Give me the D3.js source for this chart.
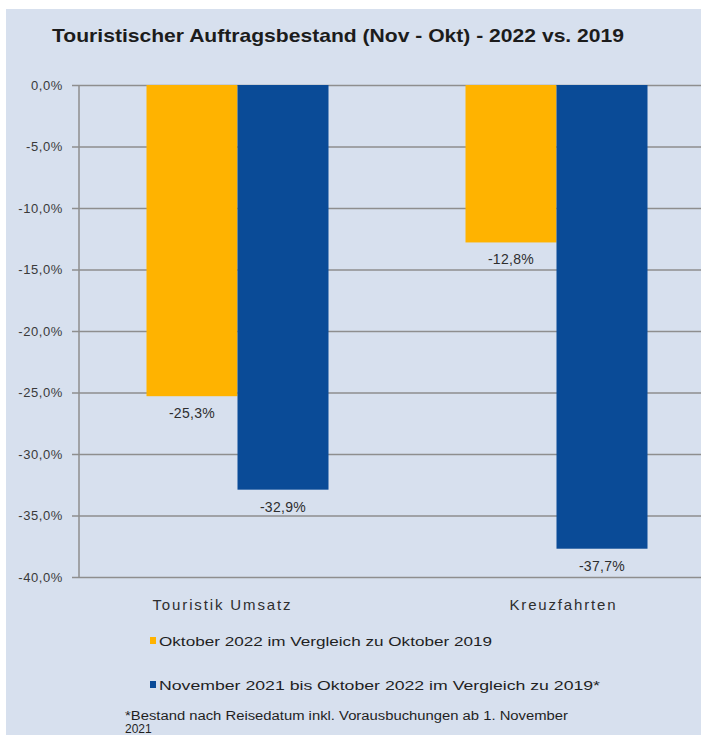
<!DOCTYPE html>
<html>
<head>
<meta charset="utf-8">
<script src="https://cdn.jsdelivr.net/npm/d3@7"></script>
<style>
    html, body { margin: 0; padding: 0; background: #fff; }
    svg { display: block; font-family: Arial, "Liberation Sans", sans-serif; }
</style>
</head>
<body>
<svg width="701" height="735"></svg>
<script>
const title = 'Touristischer Auftragsbestand (Nov - Okt) - 2022 vs. 2019';
const categories = ['Touristik Umsatz', 'Kreuzfahrten'];
const seriesNames = [
    'Oktober 2022 im Vergleich zu Oktober 2019',
    'November 2021 bis Oktober 2022 im Vergleich zu 2019*'
];
const oktoberValues = [-25.3, -12.8];
const novemberValues = [-32.9, -37.7];
const yTicks = [0, -5, -10, -15, -20, -25, -30, -35, -40];
const footnoteLines = ['*Bestand nach Reisedatum inkl. Vorausbuchungen ab 1. November', '2021'];

const colors = ['#ffb300', '#0a4b97'];
// hyphen minus and decimal comma, like the original
const fmt = v => v.toFixed(1).replace('.', ',') + '%';

const svg = d3.select('svg');
const WIDTH = 701;

svg.append('rect')
    .attr('x', 6).attr('y', 9)
    .attr('width', WIDTH - 6).attr('height', 735 - 9)
    .attr('fill', '#d7e0ee');

svg.append('text')
    .attr('x', 52).attr('y', 42)
    .attr('textLength', 572).attr('lengthAdjust', 'spacingAndGlyphs')
    .style('font-size', '19px').style('font-weight', 'bold')
    .style('fill', '#1c1c1c')
    .text(title);

const y = d3.scaleLinear().domain([-40, 0]).range([577, 85]);
const x0 = d3.scaleBand().domain(categories).range([78, 716])
    .paddingInner(137 / 319).paddingOuter(137 / 319 / 2);
const x1 = d3.scaleBand().domain(d3.range(seriesNames.length)).range([0, x0.bandwidth()]);

// gridlines
svg.append('g')
    .attr('transform', 'translate(79,0)')
    .call(d3.axisLeft(y).tickValues(yTicks).tickSize(-(WIDTH - 79)).tickFormat(''))
    .call(g => g.select('.domain').remove())
    .call(g => g.selectAll('line').attr('stroke', '#8e8e8e').attr('stroke-width', 1.5));

// y axis
svg.append('g')
    .attr('transform', 'translate(79,0)')
    .call(d3.axisLeft(y).tickValues(yTicks).tickSize(7).tickPadding(9).tickFormat(fmt))
    .call(g => g.select('.domain').attr('stroke', '#8e8e8e').attr('stroke-width', 1.5).attr('d', `M0,${y(0)}V${y(-40)}`))
    .call(g => g.selectAll('line').attr('stroke', '#8e8e8e').attr('stroke-width', 1.5))
    .call(g => g.selectAll('text')
        .style('font-size', '13px').style('letter-spacing', '0.6px')
        .attr('fill', '#3a3a3a'));

const rows = categories.map((c, i) => ({ category: c, values: [oktoberValues[i], novemberValues[i]] }));

const groups = svg.selectAll('.cat').data(rows).enter().append('g')
    .attr('class', 'cat')
    .attr('transform', d => `translate(${x0(d.category)},0)`);

groups.selectAll('rect').data(d => d.values).enter().append('rect')
    .attr('x', (d, i) => x1(i))
    .attr('width', x1.bandwidth())
    .attr('y', y(0))
    .attr('height', d => y(d) - y(0))
    .attr('fill', (d, i) => colors[i]);

groups.selectAll('.val').data(d => d.values).enter().append('text')
    .attr('class', 'val')
    .attr('x', (d, i) => x1(i) + x1.bandwidth() / 2)
    .attr('y', d => y(d) + 22)
    .attr('text-anchor', 'middle')
    .style('font-size', '14px').style('letter-spacing', '0.3px')
    .attr('fill', '#2e2e2e')
    .text(fmt);

// category labels
const catWidths = [138, 106];
svg.selectAll('.catlabel').data(categories).enter().append('text')
    .attr('class', 'catlabel')
    .attr('x', (d, i) => x0(d) + x0.bandwidth() / 2 + (i === 0 ? -16 : 6))
    .attr('y', 610)
    .attr('text-anchor', 'middle')
    .attr('textLength', (d, i) => catWidths[i])
    .style('font-size', '15px')
    .attr('fill', '#2e2e2e')
    .text(d => d);

// legend
const legendY = [641, 685];
const legendWidths = [333, 441];
const legend = svg.selectAll('.legend').data(seriesNames).enter().append('g')
    .attr('class', 'legend')
    .attr('transform', (d, i) => `translate(150,${legendY[i]})`);
legend.append('rect')
    .attr('x', 0).attr('y', -4).attr('width', 6).attr('height', 7)
    .attr('fill', (d, i) => colors[i]);
legend.append('text')
    .attr('x', 9).attr('y', 5)
    .attr('textLength', (d, i) => legendWidths[i]).attr('lengthAdjust', 'spacingAndGlyphs')
    .style('font-size', '13px')
    .attr('fill', '#1f1f1f')
    .text(d => d);

svg.selectAll('.foot').data(footnoteLines).enter().append('text')
    .attr('class', 'foot')
    .attr('x', 125).attr('y', (d, i) => 720 + i * 13)
    .attr('textLength', (d, i) => i === 0 ? 443 : null).attr('lengthAdjust', 'spacingAndGlyphs')
    .style('font-size', '12px')
    .attr('fill', '#1f1f1f')
    .text(d => d);
</script>
</body>
</html>
